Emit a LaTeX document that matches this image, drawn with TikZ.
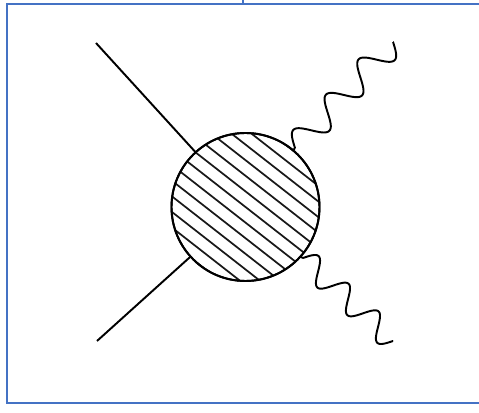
\documentclass[tikz,border=0pt]{standalone}
\usetikzlibrary{calc}
\definecolor{frameblue}{RGB}{68,114,196}
\tikzset{
  frameline/.style={draw=frameblue, line width=1.5pt},
  legline/.style={draw=black, line width=1.45pt},
  hatchline/.style={draw=black!90, line width=1.3pt},
  blobnode/.style={circle, draw=black, line width=1.45pt, minimum size=111pt, inner sep=0pt}
}
\begin{document}
\begin{tikzpicture}[x=0.75pt, y=-0.75pt]
  \clip (0,0) rectangle (479,413);
  % frame
  \coordinate (ftl) at (6.5,4);
  \coordinate (fbl) at (6.5,403);
  \coordinate (ftr) at (490,4);
  \coordinate (fbr) at (490,403);
  \draw[frameline] (ftr) -- (ftl) -- (fbl) -- (fbr);
  \coordinate (tickt) at (243,-2);
  \coordinate (tickb) at (243,4);
  \draw[draw=frameblue, line width=0.8pt] (tickt) -- (tickb);

  % blob
  \node[blobnode] (blob) at (245.5,207) {};
  \begin{scope}
    \clip (blob.center) circle[radius=55.5pt];
    \begin{scope}[shift={(blob.center)}, rotate=-38]
      \foreach \k in {-6,...,6} {
        \draw[hatchline] (-90,{\k*12.3}) -- (90,{\k*12.3});
      }
    \end{scope}
  \end{scope}
  \node[blobnode, fill=none] (blobb) at (245.5,207) {};

  % fermion legs
  \coordinate (ul) at (96,43);
  \coordinate (ll) at (97,341);
  \draw[legline] (ul) -- (blob);
  \draw[legline] (ll) -- (blob);

  % photon legs
  \coordinate (pu0) at (blob.50);
  \coordinate (pu1) at (393,42);
  \coordinate (pl0) at (blob.-42);
  \coordinate (pl1) at (393,341);
  \draw[legline, line join=round] (pu0) -- (295,148)
    plot[domain=0:144.4, samples=200, smooth]
      ({295 + \x*0.679 - 9.9*sin(7.4797*\x)},
       {148 - \x*0.734 - 9.2*sin(7.4797*\x)})
    -- (pu1);
  \draw[legline, line join=round] (pl0) -- (303,258)
    plot[domain=0:122.4, samples=200, smooth]
      ({303 + \x*0.735 + 8.1*sin(8.8235*\x)},
       {258 + \x*0.678 - 8.8*sin(8.8235*\x)})
    -- (pl1);
\end{tikzpicture}
\end{document}
